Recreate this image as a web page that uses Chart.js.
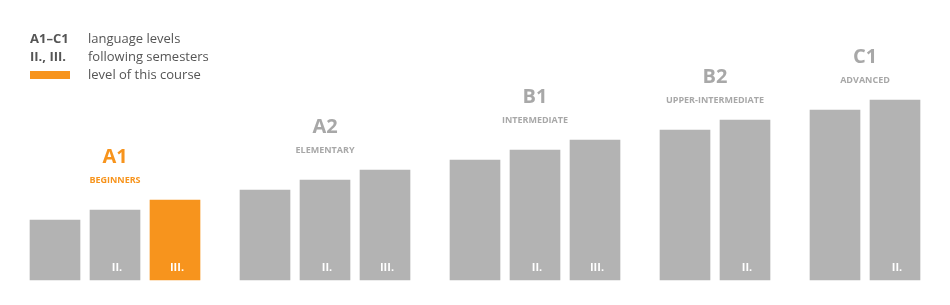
<!DOCTYPE html>
<html>
<head>
<meta charset="utf-8">
<script src="https://cdn.jsdelivr.net/npm/chart.js@4"></script>
<style>
  html, body { margin: 0; padding: 0; background: #fff; }
  #wrap { width: 950px; height: 305px; position: relative; }
</style>
</head>
<body>
<div id="wrap"><canvas id="levels"></canvas></div>
<script>
// language levels and their names
const levelCodes = ['A1', 'A2', 'B1', 'B2', 'C1'];
const levelNames = ['BEGINNERS', 'ELEMENTARY', 'INTERMEDIATE', 'UPPER-INTERMEDIATE', 'ADVANCED'];

// bar heights per level (one bar per semester)
const a1Values = [60, 70, 80];
const a2Values = [90, 100, 110];
const b1Values = [120, 130, 140];
const b2Values = [150, 160];
const c1Values = [170, 180];

const semesterLabels = ['', 'II.', 'III.'];

// level of this course
const courseLevel = 'A1';
const courseSemester = 2;

const legendCodes = ['A1\u2013C1', 'II., III.'];
const legendTexts = ['language levels', 'following semesters', 'level of this course'];

const GRAY = '#b3b3b3';
const ORANGE = '#f7941d';
const FONT = '"Open Sans", sans-serif';

const groupValues = [a1Values, a2Values, b1Values, b2Values, c1Values];

// lay bars on half-width slots, one empty slot between bars, one more between groups
const labels = [];
const data = [];
const colors = [];
const barInfo = []; // slot -> {group, semester}
const groupSlots = [];
groupValues.forEach((vals, g) => {
    const slots = [];
    vals.forEach((v, i) => {
        if (i > 0) { labels.push(''); data.push(null); colors.push(GRAY); barInfo.push(null); }
        slots.push(data.length);
        labels.push(levelCodes[g] + ' ' + (i + 1));
        data.push(v);
        const isCourse = levelCodes[g] === courseLevel && i === courseSemester;
        colors.push(isCourse ? ORANGE : GRAY);
        barInfo.push({ group: g, semester: i });
    });
    groupSlots.push(slots);
    if (g < groupValues.length - 1) {
        labels.push(''); data.push(null); colors.push(GRAY); barInfo.push(null);
        labels.push(''); data.push(null); colors.push(GRAY); barInfo.push(null);
    }
});

const annotate = {
    id: 'annotate',
    afterDatasetsDraw(chart) {
        const ctx = chart.ctx;
        const x = chart.scales.x;
        const y = chart.scales.y;
        ctx.save();

        // semester labels inside bars
        ctx.fillStyle = '#ffffff';
        ctx.font = 'bold 11px ' + FONT;
        ctx.textAlign = 'center';
        ctx.textBaseline = 'alphabetic';
        barInfo.forEach((b, slot) => {
            if (!b) return;
            const txt = semesterLabels[b.semester];
            if (txt) ctx.fillText(txt, x.getPixelForValue(slot) + 2, 271);
        });

        // level headings above each group
        groupSlots.forEach((slots, g) => {
            const cx = (x.getPixelForValue(slots[0]) + x.getPixelForValue(slots[slots.length - 1])) / 2;
            const top = Math.min(...slots.map(s => y.getPixelForValue(data[s])));
            const col = levelCodes[g] === courseLevel ? ORANGE : '#a8a8a8';
            ctx.fillStyle = col;
            ctx.font = 'bold 20px ' + FONT;
            ctx.fillText(levelCodes[g], cx, top - 37);
            ctx.font = 'bold 9px ' + FONT;
            ctx.fillText(levelNames[g], cx, top - 17);
        });

        // legend
        ctx.textAlign = 'left';
        ctx.fillStyle = '#555555';
        legendCodes.forEach((t, i) => {
            ctx.font = 'bold 13px ' + FONT;
            ctx.fillText(t, 30, 43 + i * 18);
        });
        ctx.fillStyle = ORANGE;
        ctx.fillRect(30, 71, 40, 8);
        ctx.fillStyle = '#555555';
        ctx.font = '13px ' + FONT;
        legendTexts.forEach((t, i) => {
            ctx.fillText(t, 88, 43 + i * 18);
        });
        ctx.restore();
    }
};

new Chart(document.getElementById('levels'), {
    type: 'bar',
    data: {
        labels: labels,
        datasets: [{
            data: data,
            backgroundColor: colors,
            barThickness: 50,
            borderWidth: 0,
            clip: false
        }]
    },
    options: {
        responsive: true,
        maintainAspectRatio: false,
        animation: false,
        layout: { padding: { left: 40, right: 40, top: 0, bottom: 25 } },
        plugins: { legend: { display: false }, tooltip: { enabled: false } },
        scales: {
            x: { display: false, offset: true },
            y: { display: false, min: 0, max: 280 }
        }
    },
    plugins: [annotate]
});
</script>
</body>
</html>
